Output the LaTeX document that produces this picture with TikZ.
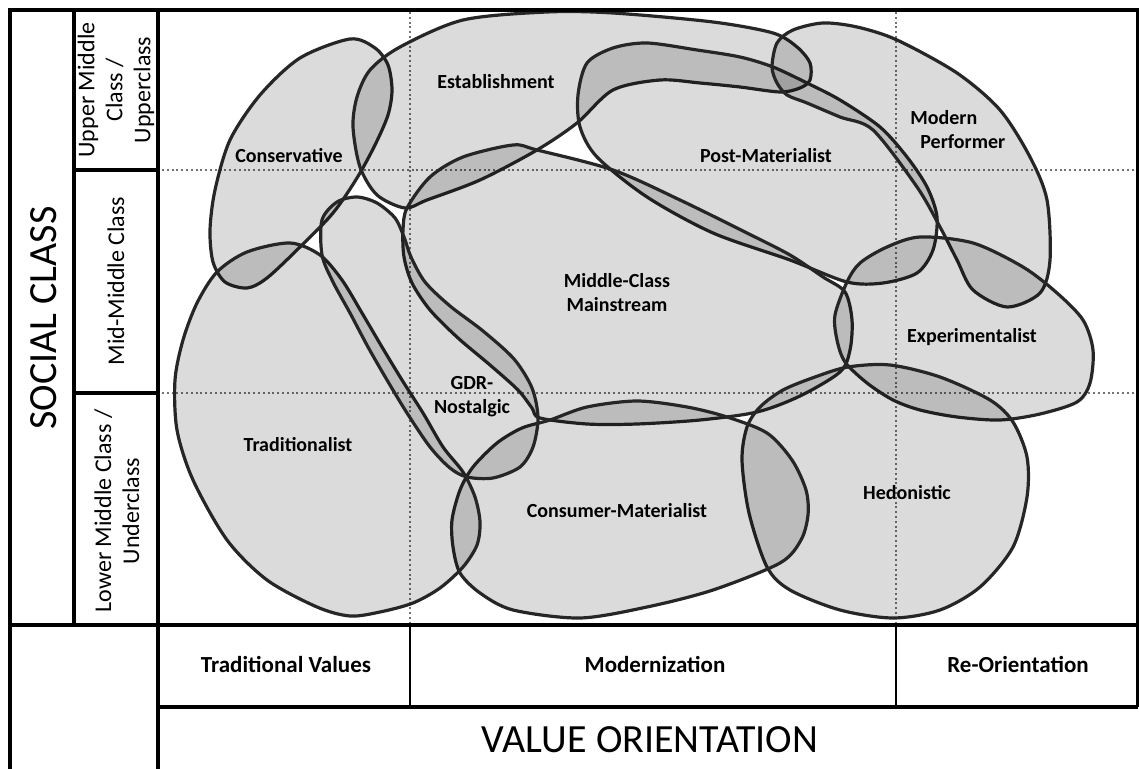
\documentclass[tikz,border=0pt]{standalone}
\usepackage{fontspec}
\setmainfont{Carlito}

\begin{document}
\begin{tikzpicture}[x=0.5pt,y=-0.5pt,
    milieu/.style={draw=black!85, line width=1.6pt, fill=black, fill opacity=0.14},
    raster/.style={draw=black!55, line width=1pt, dash pattern=on 1pt off 1.4pt},
    boxline/.style={line width=1.6pt},
    thinline/.style={line width=1.1pt},
    milieulabel/.style={font=\bfseries\fontsize{10}{12}\selectfont, align=center},
    axislabel/.style={font=\bfseries\fontsize{11.5}{14}\selectfont},
    classlabel/.style={font=\fontsize{12}{14}\selectfont, align=center, rotate=90},
    titlelabel/.style={font=\fontsize{20}{24}\selectfont}]
  \useasboundingbox (0,0) rectangle (1139,769);

  % grid of the chart
  \draw[raster] (162,170) -- (1137,170);
  \draw[raster] (162,393) -- (1137,393);
  \draw[raster] (410,12) -- (410,623);
  \draw[raster] (896,12) -- (896,623);

  % milieus
  \draw[milieu] plot[smooth cycle] coordinates {(350,39) (375,48) (388,65) (392,90) (388,115) (375,145) (357,178) (333,213) (300,247) (267,278) (247,288) (225,282) (213,262) (210,230) (215,190) (230,140) (260,95) (300,58)};
  \draw[milieu] plot[smooth cycle] coordinates {(400,47) (463,20) (547,12) (613,13) (713,22) (773,33) (797,47) (810,63) (810,80) (800,88) (780,92) (740,87) (700,83) (660,80) (613,90) (577,123) (537,150) (480,180) (427,200) (405,208) (377,195) (360,167) (353,127) (357,97) (370,70)};
  \draw[milieu] plot[smooth cycle] coordinates {(587,63) (613,48) (647,43) (697,50) (740,57) (773,67) (807,83) (840,100) (880,127) (907,157) (927,187) (937,217) (933,250) (917,273) (883,283) (847,282) (790,260) (713,233) (647,197) (597,157) (580,127) (578,95)};
  \draw[milieu] plot[smooth cycle] coordinates {(772,67) (777,43) (793,30) (823,23) (857,27) (897,40) (957,73) (1000,110) (1030,157) (1047,200) (1050,260) (1040,293) (1007,307) (973,290) (957,260) (940,227) (917,187) (873,130) (840,117) (807,103) (787,95) (777,83)};
  \draw[milieu] plot[smooth cycle] coordinates {(407,208) (430,177) (463,157) (513,145) (537,150) (613,170) (680,200) (747,233) (790,255) (823,277) (845,292) (852,320) (850,350) (840,372) (800,396) (757,412) (700,420) (637,424) (587,424) (540,418) (532,408) (518,390) (490,365) (458,338) (430,310) (412,283) (404,257) (403,230)};
  \draw[milieu] plot[smooth cycle] coordinates {(847,282) (860,263) (887,247) (920,237) (973,243) (1023,267) (1057,293) (1083,320) (1093,350) (1090,383) (1077,402) (1040,414) (1000,420) (957,417) (920,410) (893,400) (867,383) (845,362) (837,340) (835,315)};
  \draw[milieu] plot[smooth cycle] coordinates {(848,367) (890,365) (940,377) (990,400) (1013,422) (1027,457) (1027,497) (1013,547) (980,587) (940,610) (893,618) (840,610) (790,590) (767,567) (749,513) (742,460) (747,427) (760,407) (783,390) (815,377)};
  \draw[milieu] plot[smooth cycle] coordinates {(550,420) (587,407) (637,401) (687,407) (727,417) (767,433) (792,460) (806,490) (808,515) (801,540) (780,563) (713,590) (647,607) (580,618) (513,610) (480,593) (460,573) (453,547) (452,520) (460,490) (473,467) (497,443) (522,428)};
  \draw[milieu] plot[smooth cycle] coordinates {(175,380) (183,340) (197,303) (217,272) (247,252) (290,243) (320,255) (342,280) (362,313) (382,347) (402,380) (423,413) (443,447) (463,472) (475,497) (480,522) (477,545) (463,567) (440,588) (413,603) (380,612) (350,616) (317,607) (267,580) (227,540) (193,480) (177,430)};
  \draw[milieu] plot[smooth cycle] coordinates {(322,220) (337,202) (357,197) (377,203) (395,218) (404,237) (411,257) (425,282) (450,306) (483,331) (514,359) (532,388) (538,418) (533,447) (520,467) (493,478) (467,477) (450,468) (430,447) (407,413) (387,380) (368,347) (350,313) (333,282) (322,255)};

  % frame
  \draw[boxline] (10,769) -- (10,10) -- (1138,10) -- (1138,707);
  \draw[boxline] (74,10) -- (74,625);
  \draw[boxline] (158,10) -- (158,769);
  \draw[boxline] (74,170) -- (158,170);
  \draw[boxline] (74,393) -- (158,393);
  \draw[boxline] (10,625) -- (1138,625);
  \draw[boxline] (158,707) -- (1138,707);
  \draw[thinline] (410,625) -- (410,707);
  \draw[thinline] (896,625) -- (896,707);

  % class labels
  \node[titlelabel, rotate=90] (socialclass) at (44,318) {SOCIAL CLASS};
  \node[classlabel] (upper) at (116,90) {Upper Middle\\Class /\\Upperclass};
  \node[classlabel] (mid) at (116,281) {Mid-Middle Class};
  \node[classlabel] (lower) at (117,511) {Lower Middle Class /\\Underclass};

  % value labels
  \node[axislabel] (traditional) at (286,664) {Traditional Values};
  \node[axislabel] (modern) at (655,664) {Modernization};
  \node[axislabel] (reorient) at (1018,664) {Re-Orientation};
  \node[titlelabel] (valueorient) at (650,740) {VALUE ORIENTATION};

  % milieu labels
  \node[milieulabel] (conservative) at (289,156) {Conservative};
  \node[milieulabel] (establishment) at (496,82) {Establishment};
  \node[milieulabel] (postmat) at (766,156) {Post-Materialist};
  \node[milieulabel, align=left, anchor=west, inner sep=0pt] (performer) at (910,130) {Modern\\\hspace*{0.5em}Performer};
  \node[milieulabel] (mainstream) at (617,293) {Middle-Class\\Mainstream};
  \node[milieulabel] (experimental) at (972,337) {Experimentalist};
  \node[milieulabel] (gdr) at (472,397) {GDR-\\Nostalgic};
  \node[milieulabel] (traditionalist) at (298,445) {Traditionalist};
  \node[milieulabel] (consumer) at (617,511) {Consumer-Materialist};
  \node[milieulabel] (hedonistic) at (907,493) {Hedonistic};
\end{tikzpicture}
\end{document}
